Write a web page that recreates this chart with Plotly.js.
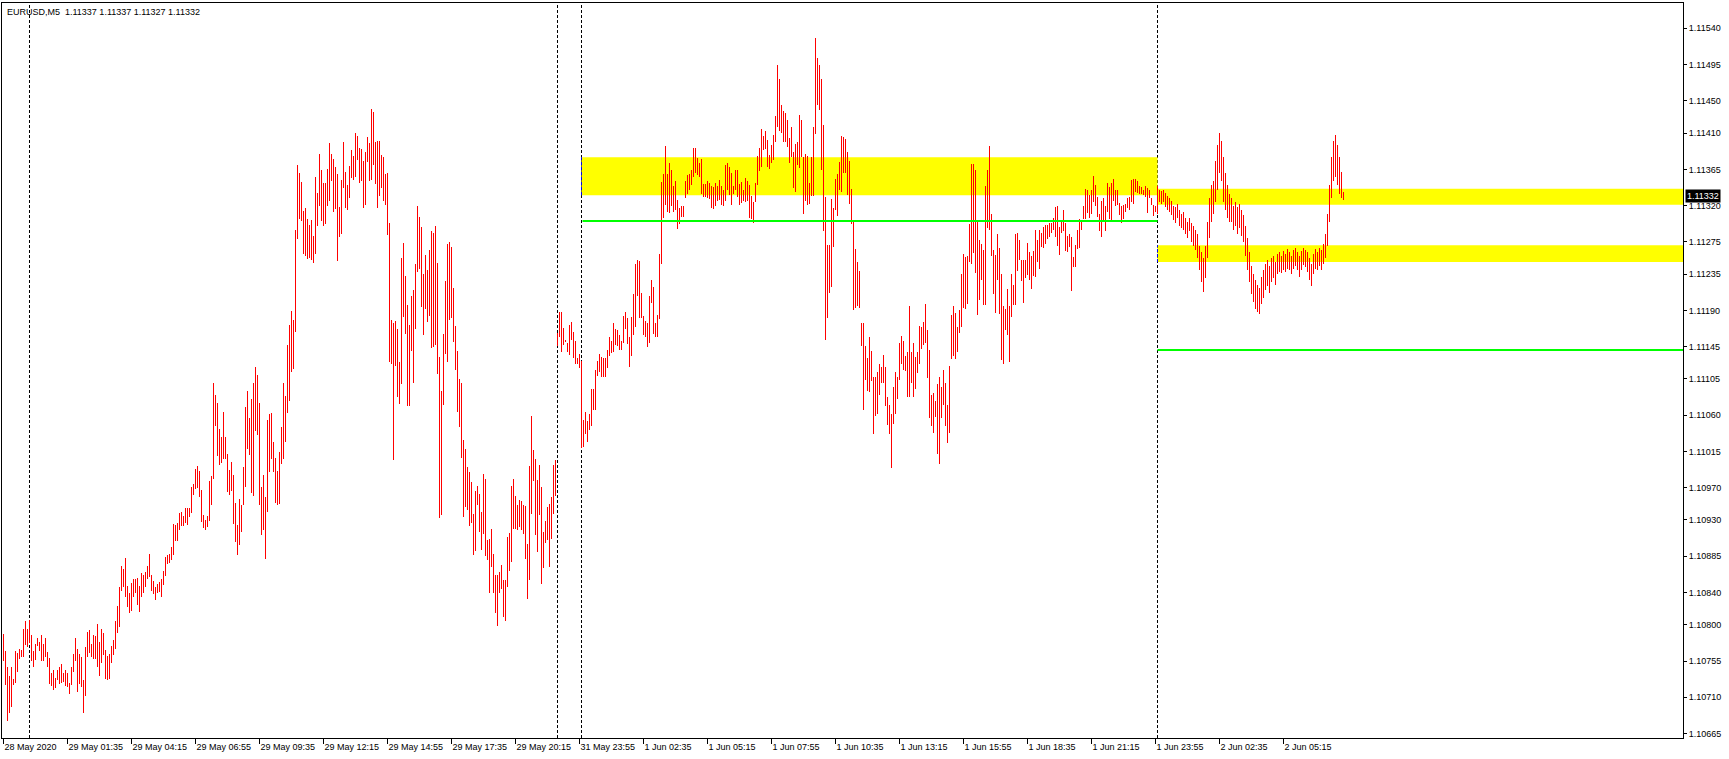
<!DOCTYPE html>
<html>
<head>
<meta charset="utf-8">
<script src="https://cdn.plot.ly/plotly-3.0.1.min.js"></script>
<style>
html,body{margin:0;padding:0;background:#fff;}
#chart{width:1729px;height:759px;}
</style>
</head>
<body>
<div id="chart"></div>
<script>
// ---- EURUSD M5 bar data (high / low), one entry per 5-minute bar ----
const high = [
// 28-29 May
1.10789,1.10768,1.10748,1.10736,1.10748,1.10733,1.10768,1.10765,1.10770,1.10769,
1.10795,1.10805,1.10795,1.10806,1.10787,1.10768,1.10776,1.10784,1.10779,1.10787,
1.10776,1.10784,1.10766,1.10759,1.10740,1.10744,1.10734,1.10744,1.10747,1.10751,
1.10740,1.10744,1.10740,1.10728,1.10747,1.10764,1.10784,1.10770,1.10764,1.10760,
1.10731,1.10772,1.10791,1.10794,1.10776,1.10787,1.10786,1.10801,1.10779,1.10795,
1.10790,1.10769,1.10761,1.10764,1.10774,1.10781,1.10805,1.10823,1.10847,1.10873,
1.10869,1.10883,1.10848,1.10840,1.10852,1.10857,1.10857,1.10858,1.10848,1.10864,
1.10862,1.10865,1.10873,1.10888,1.10862,1.10854,1.10847,1.10851,1.10853,1.10857,
1.10867,1.10884,1.10886,1.10888,1.10896,1.10925,1.10924,1.10926,1.10939,1.10940,
1.10935,1.10945,1.10945,1.10945,1.10971,1.10975,1.10993,1.10997,1.10991,1.10967,
1.10936,1.10930,1.10935,1.10978,1.10985,1.11100,1.11085,1.11075,1.11043,1.11033,
1.11064,1.11033,1.11012,1.10992,1.11002,1.10986,1.10951,1.10924,1.10956,1.10948,
1.10996,1.11070,1.11090,1.11057,1.11080,1.11100,1.11120,1.11110,1.11075,1.10971,
1.10986,
1.10958,1.11054,1.11061,1.11063,1.11027,1.11007,1.10991,1.11014,1.11045,1.11100,
1.11084,1.11147,1.11172,1.11189,1.11178,1.11290,1.11370,1.11360,1.11349,1.11313,
1.11317,1.11304,1.11296,1.11302,1.11282,1.11355,1.11336,1.11384,1.11364,1.11348,
1.11348,1.11365,1.11398,1.11384,1.11378,1.11368,1.11359,1.11318,1.11352,1.11399,
1.11362,1.11345,1.11369,1.11389,1.11382,1.11410,1.11407,1.11391,1.11390,1.11375,
1.11386,1.11405,1.11398,1.11440,1.11436,1.11399,1.11400,1.11400,1.11383,1.11380,
1.11359,1.11360,1.11299,1.11178,1.11175,1.11177,1.11167,1.11126,1.11255,1.11274,
1.11233,1.11197,1.11172,1.11208,1.11215,1.11248,1.11320,1.11306,1.11293,1.11235,
1.11259,1.11240,1.11265,1.11288,1.11286,1.11295,1.11249,1.11132,1.11090,1.11161,
1.11227,1.11273,1.11275,1.11269,1.11218,1.11171,1.11140,1.11105,1.11100,1.11029,
1.11018,1.10996,1.10989,1.10977,1.10937,1.10966,1.10972,1.10962,1.10940,1.10987,
1.10981,1.10905,1.10906,1.10919,1.10888,1.10862,1.10862,1.10865,1.10874,1.10856,
1.10855,1.10909,1.10914,1.10972,1.10981,1.10960,1.10948,1.10955,1.10953,1.10949,
1.10947,1.10900,1.10997,1.11059,1.11017,1.11006,1.10979,1.10998,1.10971,1.10915,
1.10929,1.10946,1.10950,1.10959,1.10998,1.11005,
// 31 May
1.11162,1.11188,1.11188,1.11168,1.11153,1.11150,1.11172,1.11176,1.11163,1.11152,1.11131,1.11136,
// 1 Jun
1.11127,1.11054,1.11064,1.11053,1.11062,1.11093,1.11093,1.11116,1.11127,1.11136,
1.11132,1.11131,1.11131,1.11141,1.11157,1.11152,1.11174,1.11167,1.11166,1.11159,
1.11152,1.11183,1.11188,1.11181,1.11157,1.11182,1.11210,1.11248,1.11253,1.11251,
1.11211,1.11183,1.11177,1.11175,1.11208,1.11228,1.11219,1.11175,1.11184,1.11260,
1.11349,1.11359,1.11394,1.11359,1.11373,1.11364,1.11344,1.11351,1.11327,1.11317,
1.11320,1.11320,1.11350,1.11358,1.11359,1.11364,1.11391,1.11391,1.11379,1.11373,
1.11378,1.11347,1.11347,1.11351,1.11348,1.11344,1.11343,1.11348,1.11344,1.11352,
1.11344,1.11339,1.11370,1.11373,1.11368,1.11360,1.11344,1.11364,1.11364,1.11347,
1.11349,1.11339,1.11354,1.11351,1.11345,1.11332,1.11325,1.11348,1.11382,1.11391,
1.11415,1.11406,1.11412,1.11402,1.11383,1.11395,1.11408,1.11431,1.11495,1.11477,
1.11445,1.11437,1.11435,1.11426,1.11404,1.11418,1.11386,1.11397,1.11399,1.11432,
1.11426,1.11380,1.11384,1.11381,1.11348,1.11380,1.11418,1.11528,1.11503,1.11495,
1.11477,1.11420,1.11331,1.11271,1.11271,1.11328,1.11317,
1.11353,1.11359,1.11374,1.11406,1.11405,1.11403,1.11386,1.11375,1.11341,1.11300,
1.11266,1.11250,1.11239,1.11175,1.11175,1.11146,1.11131,1.11157,1.11140,1.11108,
1.11108,1.11114,1.11124,1.11120,1.11135,1.11120,1.11083,1.11073,1.11062,1.11095,
1.11113,1.11108,1.11150,1.11158,1.11152,1.11133,1.11139,1.11196,1.11138,1.11149,
1.11132,1.11139,1.11171,1.11170,1.11176,1.11198,1.11166,1.11141,1.11085,1.11087,
1.11077,1.11099,1.11108,1.11095,1.11116,1.11100,1.11073,1.11121,1.11184,1.11195,
1.11187,1.11169,1.11191,1.11235,1.11260,1.11256,1.11257,1.11297,1.11372,1.11372,
1.11364,1.11302,1.11277,1.11273,1.11265,1.11344,1.11364,1.11394,1.11310,1.11265,
1.11259,1.11285,1.11268,1.11235,1.11195,1.11192,1.11216,1.11195,1.11235,1.11222,
1.11285,1.11286,1.11277,1.11253,1.11253,1.11253,1.11274,1.11263,1.11257,1.11264,
1.11290,1.11277,1.11290,1.11286,1.11294,1.11296,1.11296,1.11298,1.11299,1.11305,
1.11318,1.11319,1.11294,1.11302,1.11314,1.11298,1.11282,1.11285,1.11281,1.11256,
1.11271,1.11290,1.11303,1.11302,1.11319,1.11341,1.11340,1.11333,1.11339,1.11357,
1.11346,1.11331,1.11310,1.11326,1.11329,1.11319,1.11348,1.11343,1.11348,1.11353,
1.11340,1.11339,1.11323,1.11319,1.11321,1.11322,1.11329,1.11331,1.11352,1.11353,
1.11353,1.11350,1.11344,1.11343,1.11340,1.11344,1.11342,1.11340,1.11329,1.11321,
1.11319,
// 2 Jun
1.11344,1.11340,
1.11338,1.11340,1.11336,1.11332,1.11330,1.11326,1.11320,1.11318,1.11322,1.11315,
1.11310,1.11312,1.11305,1.11300,1.11305,1.11298,1.11295,1.11290,1.11285,1.11270,
1.11262,1.11255,1.11270,1.11300,1.11330,1.11345,1.11350,1.11375,1.11395,1.11410,
1.11400,1.11380,1.11360,1.11345,1.11335,1.11330,1.11320,1.11325,1.11318,1.11322,
1.11315,1.11308,1.11295,1.11280,1.11262,1.11245,1.11235,1.11228,1.11222,1.11218,
1.11232,1.11240,1.11248,1.11252,1.11245,1.11255,1.11258,1.11250,1.11260,1.11262,
1.11258,1.11264,1.11260,1.11266,1.11262,1.11258,1.11265,1.11268,1.11262,1.11258,
1.11264,1.11268,1.11265,1.11262,1.11255,1.11248,1.11260,1.11266,1.11262,1.11268,
1.11265,1.11272,1.11285,1.11310,1.11345,1.11380,1.11400,1.11408,1.11395,1.11380,
1.11362,1.11337
];
const low = [
// 28-29 May
1.10755,1.10725,1.10681,1.10691,1.10698,1.10725,1.10728,1.10741,1.10758,1.10760,
1.10760,1.10775,1.10772,1.10777,1.10755,1.10747,1.10756,1.10774,1.10767,1.10755,
1.10755,1.10760,1.10747,1.10726,1.10724,1.10719,1.10722,1.10731,1.10727,1.10728,
1.10729,1.10724,1.10723,1.10714,1.10725,1.10742,1.10755,1.10717,1.10726,1.10723,
1.10691,1.10711,1.10760,1.10765,1.10760,1.10758,1.10758,1.10747,1.10736,1.10752,
1.10763,1.10733,1.10732,1.10733,1.10753,1.10763,1.10770,1.10790,1.10797,1.10842,
1.10847,1.10834,1.10822,1.10815,1.10817,1.10835,1.10839,1.10824,1.10816,1.10834,
1.10840,1.10847,1.10857,1.10859,1.10842,1.10838,1.10831,1.10840,1.10841,1.10835,
1.10849,1.10861,1.10875,1.10877,1.10880,1.10887,1.10904,1.10904,1.10918,1.10923,
1.10923,1.10926,1.10924,1.10934,1.10939,1.10961,1.10968,1.10970,1.10959,1.10928,
1.10920,1.10917,1.10921,1.10929,1.10949,1.10981,1.11046,1.11009,1.10998,1.11001,
1.11006,1.11006,1.10965,1.10961,1.10966,1.10925,1.10903,1.10886,1.10899,1.10915,
1.10948,1.10971,1.11018,1.11011,1.10963,1.10960,1.11040,1.11035,1.10949,1.10911,
1.10918,
1.10882,1.10940,1.10990,1.11006,1.10989,1.10951,1.10949,1.10950,1.11000,1.11006,
1.11027,1.11063,1.11078,1.11113,1.11117,1.11163,1.11279,1.11304,1.11301,1.11260,
1.11258,1.11254,1.11255,1.11253,1.11249,1.11260,1.11295,1.11320,1.11301,1.11295,
1.11297,1.11319,1.11326,1.11351,1.11312,1.11316,1.11251,1.11281,1.11285,1.11342,
1.11317,1.11314,1.11330,1.11354,1.11352,1.11356,1.11377,1.11348,1.11350,1.11317,
1.11321,1.11374,1.11351,1.11352,1.11370,1.11347,1.11317,1.11332,1.11342,1.11326,
1.11321,1.11284,1.11126,1.11123,1.11005,1.11121,1.11082,1.11074,1.11099,1.11182,
1.11161,1.11071,1.11072,1.11140,1.11100,1.11167,1.11238,1.11241,1.11194,1.11160,
1.11192,1.11176,1.11183,1.11143,1.11144,1.11147,1.11111,1.10933,1.10936,1.11073,
1.11136,1.11126,1.11178,1.11180,1.11151,1.11116,1.11064,1.11045,1.11007,1.10934,
1.10946,1.10942,1.10923,1.10926,1.10886,1.10892,1.10949,1.10915,1.10893,1.10913,
1.10885,1.10880,1.10840,1.10872,1.10840,1.10814,1.10799,1.10840,1.10844,1.10810,
1.10805,1.10847,1.10867,1.10878,1.10919,1.10919,1.10918,1.10921,1.10917,1.10913,
1.10882,1.10832,1.10856,1.10937,1.10978,1.10911,1.10890,1.10936,1.10851,1.10871,
1.10901,1.10905,1.10872,1.10906,1.10937,1.10960,
// 31 May
1.11146,1.11157,1.11138,1.11147,1.11151,1.11138,1.11135,1.11153,1.11131,1.11123,1.11123,1.11119,
// 1 Jun
1.11019,1.11021,1.11037,1.11027,1.11042,1.11047,1.11067,1.11067,1.11109,1.11114,
1.11107,1.11108,1.11108,1.11118,1.11134,1.11137,1.11138,1.11147,1.11146,1.11141,
1.11141,1.11149,1.11167,1.11148,1.11120,1.11133,1.11159,1.11170,1.11208,1.11181,
1.11180,1.11160,1.11157,1.11145,1.11150,1.11199,1.11161,1.11157,1.11157,1.11179,
1.11247,1.11305,1.11321,1.11312,1.11311,1.11319,1.11312,1.11315,1.11291,1.11297,
1.11306,1.11306,1.11330,1.11335,1.11339,1.11346,1.11356,1.11360,1.11358,1.11356,
1.11334,1.11331,1.11331,1.11329,1.11328,1.11317,1.11316,1.11320,1.11326,1.11327,
1.11321,1.11320,1.11326,1.11339,1.11333,1.11321,1.11334,1.11339,1.11331,1.11321,
1.11323,1.11326,1.11325,1.11326,1.11305,1.11304,1.11299,1.11325,1.11346,1.11363,
1.11368,1.11389,1.11390,1.11368,1.11366,1.11373,1.11377,1.11399,1.11417,1.11412,
1.11410,1.11399,1.11399,1.11393,1.11373,1.11380,1.11342,1.11337,1.11371,1.11367,
1.11380,1.11310,1.11326,1.11321,1.11322,1.11332,1.11332,1.11409,1.11445,1.11439,
1.11364,1.11288,1.11153,1.11181,1.11212,1.11219,1.11269,
1.11314,1.11307,1.11339,1.11337,1.11361,1.11360,1.11333,1.11322,1.11297,1.11191,
1.11193,1.11195,1.11193,1.11146,1.11067,1.11104,1.11090,1.11089,1.11103,1.11037,
1.11059,1.11062,1.11085,1.11100,1.11100,1.11071,1.11048,1.11037,1.10995,1.11049,
1.11062,1.11080,1.11104,1.11124,1.11116,1.11115,1.11082,1.11083,1.11100,1.11083,
1.11092,1.11112,1.11124,1.11142,1.11147,1.11149,1.11106,1.11057,1.11047,1.11038,
1.11058,1.11012,1.11000,1.11057,1.11073,1.11047,1.11025,1.11038,1.11130,1.11133,
1.11130,1.11138,1.11162,1.11169,1.11193,1.11192,1.11198,1.11250,1.11248,1.11261,
1.11236,1.11184,1.11203,1.11228,1.11197,1.11197,1.11292,1.11290,1.11257,1.11210,
1.11187,1.11228,1.11186,1.11128,1.11123,1.11166,1.11160,1.11126,1.11182,1.11197,
1.11197,1.11239,1.11253,1.11227,1.11199,1.11230,1.11234,1.11228,1.11217,1.11233,
1.11232,1.11250,1.11242,1.11269,1.11268,1.11273,1.11279,1.11281,1.11286,1.11290,
1.11281,1.11270,1.11259,1.11286,1.11288,1.11264,1.11263,1.11269,1.11214,1.11244,
1.11244,1.11266,1.11267,1.11290,1.11303,1.11304,1.11311,1.11305,1.11310,1.11325,
1.11319,1.11306,1.11288,1.11281,1.11302,1.11288,1.11312,1.11303,1.11302,1.11326,
1.11319,1.11321,1.11308,1.11299,1.11303,1.11312,1.11317,1.11315,1.11325,1.11322,
1.11337,1.11336,1.11335,1.11335,1.11333,1.11331,1.11311,1.11329,1.11321,1.11307,
1.11312,
// 2 Jun
1.11310,1.11324,
1.11322,1.11325,1.11318,1.11315,1.11312,1.11308,1.11302,1.11298,1.11305,1.11295,
1.11292,1.11290,1.11285,1.11280,1.11288,1.11275,1.11270,1.11265,1.11255,1.11240,
1.11225,1.11213,1.11230,1.11255,1.11280,1.11300,1.11310,1.11325,1.11340,1.11360,
1.11350,1.11325,1.11315,1.11305,1.11300,1.11300,1.11290,1.11295,1.11285,1.11292,
1.11282,1.11275,1.11258,1.11240,1.11225,1.11210,1.11200,1.11192,1.11188,1.11185,
1.11198,1.11205,1.11215,1.11220,1.11212,1.11225,1.11230,1.11222,1.11235,1.11238,
1.11236,1.11240,1.11238,1.11242,1.11240,1.11235,1.11242,1.11245,1.11240,1.11232,
1.11240,1.11246,1.11244,1.11238,1.11228,1.11220,1.11235,1.11242,1.11240,1.11245,
1.11240,1.11248,1.11255,1.11270,1.11300,1.11330,1.11350,1.11355,1.11345,1.11335,
1.11330,1.11327
];

// time-axis labels (one every 32 bars)
const timeLabels = [
"28 May 2020","29 May 01:35","29 May 04:15","29 May 06:55","29 May 09:35","29 May 12:15",
"29 May 14:55","29 May 17:35","29 May 20:15","31 May 23:55","1 Jun 02:35","1 Jun 05:15",
"1 Jun 07:55","1 Jun 10:35","1 Jun 13:15","1 Jun 15:55","1 Jun 18:35","1 Jun 21:15",
"1 Jun 23:55","2 Jun 02:35","2 Jun 05:15"
];
// price-axis labels
const priceTicks = [1.11540,1.11495,1.11450,1.11410,1.11365,1.11320,1.11275,1.11235,1.11190,
1.11145,1.11105,1.11060,1.11015,1.10970,1.10930,1.10885,1.10840,1.10800,1.10755,1.10710,1.10665];

// levels drawn on the chart
const bidPrice = 1.11332;
const headerText = "EURUSD,M5 \u00a01.11337 1.11337 1.11327 1.11332";
const zones = [ // [fromBar, toBar, lowPrice, highPrice]
  [289, 577, 1.11333, 1.11380],
  [577, 840, 1.11321, 1.11341],
  [577, 840, 1.11250, 1.11271]
];
const greenLevels = [ // [fromBar, toBar, price]
  [289.5, 577, 1.11301],
  [577, 840, 1.11141]
];
const daySeparators = [13, 277, 289, 577];

// ---- build ----
const xs = high.map((_, i) => i);
const barLen = high.map((h, i) => Math.max(h - low[i], 0.000008));

const trace = {
  type: 'bar', x: xs, y: barLen, base: low, width: 0.48,
  marker: {color: '#FF0000', line: {width: 0}},
  hoverinfo: 'skip', showlegend: false
};

const shapes = [];
zones.forEach(z => shapes.push({type:'rect', layer:'below', xref:'x', yref:'y',
  x0:z[0], x1:z[1], y0:z[2], y1:z[3], fillcolor:'#FFFF00', line:{width:0}}));
shapes.push({type:'line', layer:'below', xref:'paper', yref:'y', x0:0, x1:1,
  y0:bidPrice, y1:bidPrice, line:{color:'#FFFFFF', width:1}});
shapes.push({type:'line', layer:'below', xref:'paper', yref:'y', x0:0, x1:1,
  y0:1.11365, y1:1.11365, line:{color:'#FFFFFF', width:1, dash:'3px,3px'}});
daySeparators.forEach(d => shapes.push({type:'line', layer:'below', xref:'x', yref:'paper',
  x0:d, x1:d, y0:0, y1:1, line:{color:'#000000', width:1, dash:'3px,2px'}}));
// separator looks blue where it crosses the yellow zones
zones.forEach(z => shapes.push({type:'line', layer:'below', xref:'x', yref:'y',
  x0:z[0], x1:z[0], y0:z[2], y1:z[3], line:{color:'#0000FF', width:1, dash:'3px,2px'}}));
greenLevels.forEach(g => shapes.push({type:'line', layer:'above', xref:'x', yref:'y',
  x0:g[0], x1:g[1], y0:g[2], y1:g[2], line:{color:'#00FF00', width:2}}));

const fontFam = '"Liberation Sans", Arial, sans-serif';
const layout = {
  width: 1729, height: 759,
  margin: {l: 2, r: 46, t: 3, b: 21, pad: 0},
  paper_bgcolor: '#FFFFFF', plot_bgcolor: '#FFFFFF',
  showlegend: false, bargap: 0,
  font: {family: fontFam, size: 9, color: '#000000'},
  xaxis: {
    range: [-0.75, 839.75], fixedrange: true,
    tickmode: 'array', tickvals: timeLabels.map((_, i) => i * 32), ticktext: timeLabels,
    ticks: 'outside', ticklen: 5, tickwidth: 1, tickcolor: '#000000',
    ticklabelposition: 'outside right',
    showline: true, mirror: true, linecolor: '#000000', linewidth: 1,
    showgrid: false, zeroline: false,
    tickfont: {family: fontFam, size: 9, color: '#000000'}
  },
  yaxis: {
    side: 'right', range: [1.106595, 1.115714], fixedrange: true,
    tickmode: 'array', tickvals: priceTicks, ticktext: priceTicks.map(v => v.toFixed(5)),
    ticks: 'outside', ticklen: 3, tickwidth: 1, tickcolor: '#000000',
    showline: true, mirror: true, linecolor: '#000000', linewidth: 1,
    showgrid: false, zeroline: false,
    tickfont: {family: fontFam, size: 9, color: '#000000'}
  },
  shapes: shapes,
  annotations: [
    {xref: 'paper', yref: 'paper', x: 0, y: 1, xanchor: 'left', yanchor: 'top',
     xshift: 3, yshift: -2, text: headerText, showarrow: false,
     font: {family: fontFam, size: 9, color: '#000000'}},
    {xref: 'paper', yref: 'y', x: 1, y: bidPrice, xanchor: 'left', yanchor: 'middle',
     xshift: 2, text: bidPrice.toFixed(5), showarrow: false, bgcolor: '#000000',
     borderpad: 1, font: {family: fontFam, size: 9, color: '#FFFFFF'}}
  ]
};

Plotly.newPlot('chart', [trace], layout, {staticPlot: true, displayModeBar: false});
</script>
</body>
</html>
